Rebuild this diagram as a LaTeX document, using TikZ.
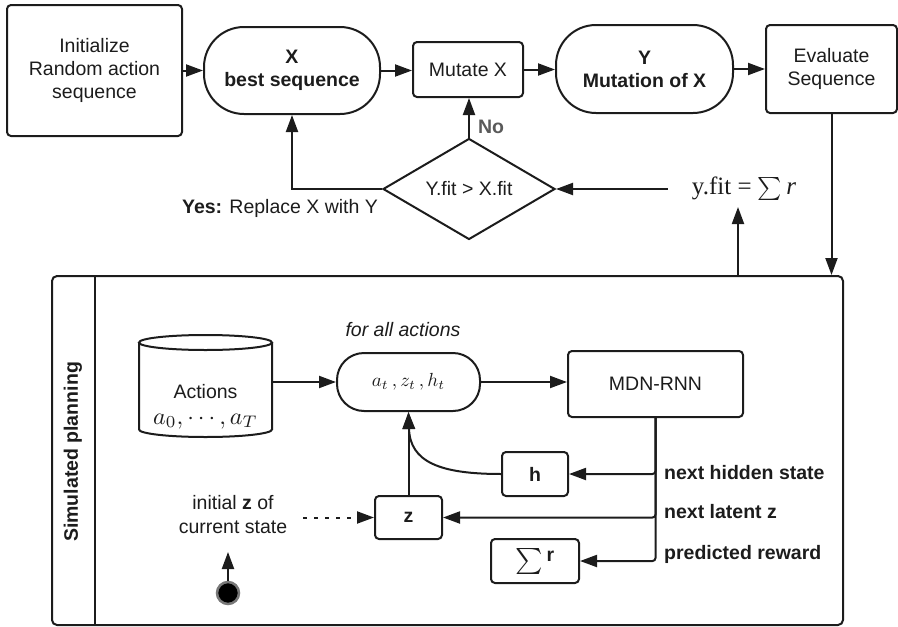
\documentclass[tikz,border=0pt]{standalone}
\usepackage{graphicx}
\usepackage{fontspec}
\setmainfont{Liberation Sans}
\newfontfamily\serifface{Liberation Serif}
\usetikzlibrary{arrows.meta,shapes.geometric}
\definecolor{ink}{RGB}{28,28,28}
\definecolor{nogray}{RGB}{90,90,90}
\definecolor{ringgray}{RGB}{120,120,120}
\newcommand\fs{\fontsize{19.5}{23}\selectfont}
\newcommand\mth[2]{\scalebox{#1}{\normalsize$#2$}}
\begin{document}
\begin{tikzpicture}[x=1pt,y=-1pt,
  line/.style={draw=ink, line width=2pt},
  box/.style={line, rounded corners=4pt, align=center, inner sep=0pt, font=\fs, text=ink},
  stad/.style={box, rounded corners=40pt},
  arr/.style={line, -{Triangle[length=17pt,width=12pt]}},
  lbl/.style={font=\fs, text=ink, inner sep=0pt, align=center}]
\useasboundingbox (0,0) rectangle (898,627);

% top row
\node[box, minimum width=175pt, minimum height=131pt] (init) at (94.5,70.5) {Initialize\\Random action\\sequence};
\node[stad, minimum width=176pt, minimum height=87pt, font=\fs\bfseries] (X) at (292,70.5) {X\\best sequence};
\node[box, minimum width=110pt, minimum height=55pt] (mut) at (468,69.5) {Mutate X};
\node[stad, minimum width=177pt, minimum height=88pt, font=\fs\bfseries] (Y) at (644.5,69) {Y\\Mutation of X};
\node[box, minimum width=131pt, minimum height=88pt] (eval) at (831.5,69) {Evaluate\\Sequence};
\node[line, diamond, aspect=1.7, minimum width=172pt, minimum height=101pt, inner sep=0pt, font=\fs, text=ink] (dia) at (469,189) {Y.fit > X.fit};
\node[inner sep=0pt, font=\fontsize{25}{28}\selectfont\serifface, text=ink] (yfit) at (744,189) {y.fit = \mth{2.3}{\sum}\,\textit{r}};

\draw[arr] (init.east) -- (init.east -| X.west);
\draw[arr] (X.east) -- (X.east -| mut.west);
\draw[arr] (mut.east) -- (mut.east -| Y.west);
\draw[arr] (Y.east) -- (Y.east -| eval.west);
\draw[arr] (dia.north) -- (dia.north |- mut.south);
\node[font=\fs\bfseries, text=nogray, inner sep=0pt] (no) at (491,127) {No};
\draw[arr] (dia.west) -| (X.south);
\node[lbl] (yes) at (280,208) {\textbf{Yes:} Replace X with Y};
\draw[arr] ([xshift=-24pt]yfit.west) -- (dia.east);

% planning box
\node[line, rounded corners=5pt, minimum width=791pt, minimum height=349pt, inner sep=0pt] (plan) at (447.5,450.5) {};
\draw[line] ([xshift=44pt]plan.north west) -- ([xshift=44pt]plan.south west);
\node[lbl, rotate=90, font=\fs\bfseries] (title) at (73,452) {Simulated planning};

\draw[arr] (eval.south) -- (eval.south |- plan.north);
\coordinate (ytip) at (738,207);
\draw[arr] (plan.north -| ytip) -- (ytip);

% cylinder
\draw[line] (139,342.5) -- (139,429.5) arc[start angle=180, end angle=0, x radius=66.5, y radius=7.5] -- (272,342.5);
\draw[line] (205.5,342.5) ellipse [x radius=66.5, y radius=7.5];
\node[inner sep=0pt, minimum width=133pt, minimum height=102pt] (cyl) at (205.5,386) {};
\node[lbl] (acttxt) at (205.5,392) {Actions};
\node[lbl] (actmath) at (205.5,421) {\mth{2.4}{a_0,\cdots,a_T}};

\node[stad, rounded corners=27pt, minimum width=143pt, minimum height=58pt] (st) at (408.5,382) {\mth{1.9}{a_t\,,z_t\,,h_t}};
\node[lbl, font=\fs\itshape] (fall) at (403,330) {for all actions};
\node[box, minimum width=175pt, minimum height=66pt] (mdn) at (655.5,384) {MDN-RNN};

\draw[arr] (st.west -| cyl.east) -- (st.west);
\draw[arr] (st.east) -- (st.east -| mdn.west);

\node[box, minimum width=66pt, minimum height=44pt, font=\fs\bfseries] (h) at (535,474) {h};
\node[box, minimum width=67pt, minimum height=43pt, font=\fs\bfseries] (z) at (408.5,517.5) {z};
\node[box, minimum width=88pt, minimum height=44pt] (sig) at (535,561) {\mth{2.6}{\sum}\,\raisebox{6pt}{\bfseries r}};

\draw[arr, rounded corners=3pt] (mdn.south) |- (h.east);
\draw[arr, rounded corners=3pt] (mdn.south) |- (z.east);
\draw[arr, rounded corners=3pt] (mdn.south) |- (sig.east);

\node[lbl, font=\fs\bfseries, anchor=west] (l1) at (664,473) {next hidden state};
\node[lbl, font=\fs\bfseries, anchor=west] (l2) at (664,512) {next latent z};
\node[lbl, font=\fs\bfseries, anchor=west] (l3) at (664,554) {predicted reward};

\draw[arr] (h.west) .. controls (440,474) and (410,462) .. (st.south);
\draw[arr] (z.north) -- (st.south);

\node[lbl, font=\fontsize{19.5}{24}\selectfont] (initz) at (233,515) {initial \textbf{z} of\\current state};
\coordinate (dstart) at (303,517.5);
\draw[arr, dash pattern=on 4pt off 7pt] (dstart) -- (z.west);

\node[circle, fill=black, draw=ringgray, line width=2.5pt, minimum size=22pt, inner sep=0pt] (dot) at (228,593) {};
\coordinate (dtip) at (228,552);
\draw[arr] (dot.north) -- (dtip);
\end{tikzpicture}
\end{document}
